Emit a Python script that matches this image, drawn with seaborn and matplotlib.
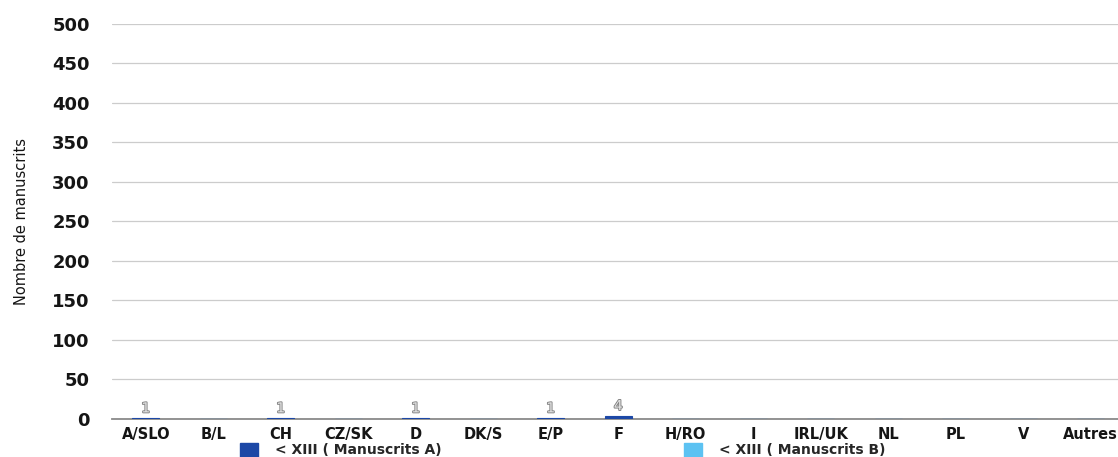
import pandas as pd
import matplotlib
matplotlib.use('Agg')
import matplotlib.pyplot as plt
import matplotlib.patches as mpatches
import matplotlib.patheffects as pe
import seaborn as sns

# Données
pays = ['A/SLO', 'B/L', 'CH', 'CZ/SK', 'D', 'DK/S', 'E/P', 'F', 'H/RO',
        'I', 'IRL/UK', 'NL', 'PL', 'V', 'Autres']
manuscrits_a = [1, 0, 1, 0, 1, 0, 1, 4, 0, 0, 0, 0, 0, 0, 0]
manuscrits_b = [0, 0, 0, 0, 0, 0, 0, 0, 0, 0, 0, 0, 0, 0, 0]
series = ['< XIII ( Manuscrits A)', '< XIII ( Manuscrits B)']
couleurs = ['#1c48a6', '#5cc2f2']
yticks = [0, 50, 100, 150, 200, 250, 300, 350, 400, 450, 500]

df = pd.DataFrame({
    'Pays': pays * 2,
    'Nombre': manuscrits_a + manuscrits_b,
    'Serie': [series[0]] * len(pays) + [series[1]] * len(pays),
})

sns.set_theme(style='white')
plt.rcParams['font.family'] = ['DejaVu Sans']

fig = plt.figure(figsize=(11.18, 4.57), dpi=100)
ax = fig.add_axes([0.1002, 0.0832, 0.9056, 0.8643])

sns.barplot(data=df, x='Pays', y='Nombre', hue='Serie', hue_order=series[::-1],
            palette=couleurs[::-1], dodge=False, width=0.4, saturation=1,
            ax=ax, legend=False)
for p in ax.patches:
    p.set_edgecolor(p.get_facecolor())
    p.set_linewidth(0.8)
    p.set_zorder(3)

ax.set_ylim(0, 500)
ax.set_xlim(-0.5, 14.5)
ax.set_yticks(yticks)
ax.set_yticklabels([str(v) for v in yticks], fontsize=13, fontweight='bold', color='#151515')
ax.set_xticks(range(len(pays)))
ax.set_xticklabels(pays, fontsize=10.5, fontweight='bold', color='#151515')
ax.tick_params(axis='both', length=0)
ax.tick_params(axis='y', pad=16)
ax.tick_params(axis='x', pad=6)

ax.grid(axis='y', color='#cccccc', linewidth=0.9)
ax.set_axisbelow(True)
for s in ['top', 'right', 'left']:
    ax.spines[s].set_visible(False)
ax.spines['bottom'].set_color('#8a8a8a')
ax.spines['bottom'].set_linewidth(1.3)

ax.set_xlabel('')
ax.set_ylabel('Nombre de manuscrits', fontsize=10.5, color='#151515')
ax.yaxis.set_label_coords(-0.082, 0.5)

# étiquettes de valeurs (seulement les barres non nulles)
cont = ax.containers[-1]
ax.bar_label(cont, labels=[str(v) if v > 0 else '' for v in manuscrits_a],
             fontsize=10, color='#e4e4e4', padding=2,
             path_effects=[pe.withStroke(linewidth=1.3, foreground='#7f7f7f')])

# deux entrées de légende placées séparément
for c, s, x0 in zip(couleurs, series, [240, 684]):
    fig.legend(handles=[mpatches.Patch(color=c, label=s)],
               loc='center left', bbox_to_anchor=(x0 / 1118, 7 / 457),
               frameon=False, prop={'size': 10, 'weight': 'bold'},
               handlelength=1.3, handleheight=1.2, handletextpad=1.2,
               borderaxespad=0, borderpad=0)

fig.savefig('out.png', dpi=100)
